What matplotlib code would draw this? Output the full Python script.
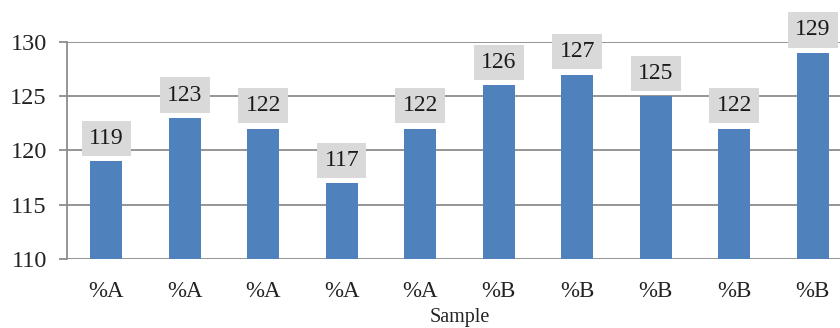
import matplotlib
matplotlib.use("Agg")
import matplotlib.pyplot as plt

categories = ["%A", "%A", "%A", "%A", "%A", "%B", "%B", "%B", "%B", "%B"]
values = [119, 123, 122, 117, 122, 126, 127, 125, 122, 129]
yticks = [110, 115, 120, 125, 130]
xlabel = "Sample"

plt.rcParams['font.family'] = ['Liberation Serif', 'DejaVu Serif']

W, H = 840, 328
fig = plt.figure(figsize=(W / 100, H / 100), dpi=100)
left, right, top, bottom = 67, 852, 42, 259
ax = fig.add_axes([left / W, 1 - bottom / H, (right - left) / W, (bottom - top) / H])

x = list(range(len(values)))
ax.bar(x, [v - 110 for v in values], bottom=110, width=0.41, color="#4F81BD", zorder=2)
ax.set_xlim(-0.5, len(values) - 0.5)
ax.set_ylim(110, 130)
ax.set_yticks(yticks)
ax.set_xticks(x)
ax.set_xticklabels(categories)

ax.yaxis.grid(True, color="#8c8c8c", linewidth=1.3, zorder=0)
ax.set_axisbelow(True)
for s in ["top", "right", "bottom"]:
    ax.spines[s].set_visible(False)
ax.spines["left"].set_color("#8c8c8c")
ax.spines["left"].set_linewidth(1.3)
ax.tick_params(axis="y", length=6, width=1.3, color="#8c8c8c", pad=8.5,
               labelsize=17.5, labelcolor="#222222")
ax.tick_params(axis="x", length=0, pad=16, labelsize=16.5, labelcolor="#222222")

for xi, v in zip(x, values):
    ax.annotate(str(v), (xi, v), xytext=(0, 16.5), textcoords="offset points",
                ha="center", va="center", fontsize=17, color="#1a1a1a", zorder=5,
                bbox=dict(boxstyle="square,pad=0.3", fc="#d9d9d9", ec="none"))

ax.set_xlabel(xlabel, fontsize=14.5, color="#222222", labelpad=4)

fig.savefig("out.png", dpi=100)
